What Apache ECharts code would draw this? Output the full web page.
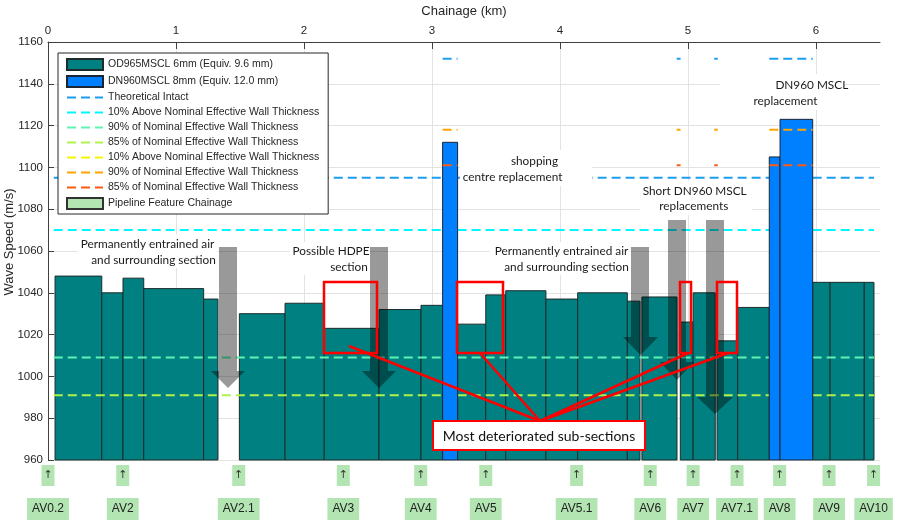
<!DOCTYPE html>
<html><head><meta charset="utf-8">
<script src="https://cdn.jsdelivr.net/npm/echarts@6/dist/echarts.min.js"></script>
<style>html,body{margin:0;padding:0;background:#fff}#c{width:911px;height:531px}</style>
</head><body><div id="c"></div>
<script>
// ---- data ----
const odStart = [0.055, 0.42, 0.586, 0.748, 1.216, 1.495, 1.852, 2.158, 2.586, 2.914, 3.2, 3.42, 3.576, 3.89, 4.138, 4.526, 4.64, 4.94, 5.04, 5.227, 5.388, 5.974, 6.11, 6.377];
const odEnd   = [0.42, 0.586, 0.748, 1.216, 1.328, 1.852, 2.158, 2.586, 2.914, 3.083, 3.42, 3.576, 3.89, 4.138, 4.526, 4.625, 4.914, 5.04, 5.213, 5.388, 5.635, 6.11, 6.377, 6.453];
const odSpeed = [1048, 1040, 1047, 1042, 1037, 1030, 1035, 1023, 1032, 1034, 1025, 1039, 1041, 1037, 1040, 1036, 1038, 1026, 1040, 1017, 1033, 1045, 1045, 1045];
const dnStart = [3.083, 5.635, 5.719];
const dnEnd   = [3.2, 5.719, 5.974];
const dnSpeed = [1112, 1105, 1123];
const odLineStart = [0.045, 3.2, 5.974];
const odLineEnd   = [3.083, 5.635, 6.453];
const dnLineStart = [3.083, 4.912, 5.205, 5.635];
const dnLineEnd   = [3.2, 4.942, 5.232, 5.974];
const odIntact = 1095, od10Above = 1070, od90 = 1009, od85 = 991;
const dnIntact = 1152, dn10Above = 1178, dn90 = 1118, dn85 = 1101;
const featureKm   = [0.0, 0.584, 1.49, 2.307, 2.912, 3.42, 4.13, 4.705, 5.04, 5.383, 5.716, 6.102, 6.45];
const featureName = ['AV0.2','AV2','AV2.1','AV3','AV4','AV5','AV5.1','AV6','AV7','AV7.1','AV8','AV9','AV10'];
const yMin = 960, yMax = 1160, yStep = 20;
const xMin = 0, xMax = 6.5, xStep = 1;

const NAME_OD = 'OD965MSCL 6mm (Equiv. 9.6 mm)';
const NAME_DN = 'DN960MSCL 8mm (Equiv. 12.0 mm)';
const NAME_INT = 'Theoretical Intact';
const NAME_10 = '10% Above Nominal Effective Wall Thickness';
const NAME_90 = '90% of Nominal Effective Wall Thickness';
const NAME_85 = '85% of Nominal Effective Wall Thickness';
const NAME_FEAT = 'Pipeline Feature Chainage';

const TEAL = '#008080', BLUE = '#0080ff', FEAT = '#b3e5b3';
const FONT = 'Liberation Sans';

function barSeries(name, starts, ends, vals, color, border, z) {
  return {
    type: 'custom', name, z, xAxisIndex: 0, yAxisIndex: 0, silent: true,
    itemStyle: { color, borderColor: border, borderWidth: 1 },
    data: starts.map((s, i) => [s, ends[i], vals[i]]),
    encode: { x: [0, 1], y: 2 },
    renderItem(params, api) {
      const p0 = api.coord([api.value(0), api.value(2)]);
      const p1 = api.coord([api.value(1), yMin]);
      return { type: 'rect', shape: { x: p0[0], y: p0[1], width: p1[0] - p0[0], height: p1[1] - p0[1] },
        style: { fill: color, stroke: border, lineWidth: 1 } };
    }
  };
}
function segLine(name, starts, ends, v, color, z) {
  const data = [];
  starts.forEach((s, i) => { data.push([s, v], [ends[i], v], [ends[i], '-']); });
  return { type: 'line', name, z, data, symbol: 'none', showSymbol: false, connectNulls: false, silent: true, clip: true,
    xAxisIndex: 0, yAxisIndex: 0,
    lineStyle: { color, width: 2, type: [9, 5] }, itemStyle: { color } };
}

const series = [
  barSeries(NAME_OD, odStart, odEnd, odSpeed, TEAL, '#1d2b2b', 2),
  segLine(NAME_INT, odLineStart, odLineEnd, odIntact, '#1c9ef0', 3),
  segLine(NAME_10, odLineStart, odLineEnd, od10Above, '#00f7ff', 3),
  segLine(NAME_90, odLineStart, odLineEnd, od90, '#5ef3b2', 3),
  segLine(NAME_85, odLineStart, odLineEnd, od85, '#b0f24c', 3),
  barSeries(NAME_DN, dnStart, dnEnd, dnSpeed, BLUE, '#1a2535', 4),
  segLine(NAME_INT + ' ', dnLineStart, dnLineEnd, dnIntact, '#1c9ef0', 5),
  segLine(NAME_10 + ' ', dnLineStart, dnLineEnd, dn10Above, '#f5f500', 5),
  segLine(NAME_90 + ' ', dnLineStart, dnLineEnd, dn90, '#ffa400', 5),
  segLine(NAME_85 + ' ', dnLineStart, dnLineEnd, dn85, '#ff5a12', 5),
  {
    type: 'custom', name: NAME_FEAT, xAxisIndex: 1, yAxisIndex: 1, silent: true, clip: false,
    itemStyle: { color: FEAT, borderColor: '#333', borderWidth: 1 },
    data: featureKm.map((k, i) => [k, 0.5, i]),
    encode: { x: 0, y: 1 },
    renderItem(params, api) {
      const x = api.coord([api.value(0), 0.5])[0];
      const top = params.coordSys.y;
      const nm = featureName[api.value(2)];
      return { type: 'group', children: [
        { type: 'rect', shape: { x: x - 6.5, y: top + 5, width: 13, height: 21 }, style: { fill: FEAT } },
        { type: 'text', x: x, y: top + 15.5, style: { text: '\u2191', fill: '#333', font: '11px "DejaVu Sans"', textAlign: 'center', textVerticalAlign: 'middle' } },
        { type: 'text', x: x, y: top + 49, style: { text: nm, fill: '#222', font: '12px "Liberation Sans"', textAlign: 'center', textVerticalAlign: 'middle', backgroundColor: FEAT, padding: [5, 5, 5, 5] } }
      ] };
    }
  }
];

// ---- annotations (pixel graphics) ----
const ARROW = 'rgba(0,0,0,0.4)';
function arrow(x1, x2, top, hx1, hx2, headY, tip) {
  const cx = (hx1 + hx2) / 2;
  return { type: 'polygon', z: 100, silent: true, shape: { points: [[x1, top], [x2, top], [x2, headY], [hx2, headY], [cx, tip], [hx1, headY], [x1, headY]] }, style: { fill: ARROW } };
}
function bg(x, y, w, h) { return { type: 'rect', z: 99, silent: true, shape: { x, y, width: w, height: h }, style: { fill: '#fff' } }; }
function txt(text, cx, cy) { return { type: 'text', z: 103, silent: true, x: cx, y: cy, style: { text, fill: '#1a1a1a', font: '11.8px Lato', textAlign: 'center', textVerticalAlign: 'middle' } }; }
function rbox(x1, y1, x2, y2) { return { type: 'rect', z: 104, silent: true, shape: { x: x1, y: y1, width: x2 - x1, height: y2 - y1 }, style: { fill: 'transparent', stroke: '#ff0000', lineWidth: 2.5 } }; }
function rline(x1, y1, x2, y2) { return { type: 'line', z: 104, silent: true, shape: { x1, y1, x2, y2 }, style: { stroke: '#ff0000', lineWidth: 2.5 } }; }

const graphics = [
  bg(78, 234, 140, 34), txt('Permanently entrained air', 147.5, 244), txt('and surrounding section', 153.5, 260),
  bg(290, 242, 80, 33), txt('Possible HDPE', 331, 251), txt('section', 349, 267),
  bg(490, 242, 140, 33), txt('Permanently entrained air', 561.5, 251), txt('and surrounding section', 566.5, 267),
  bg(460, 150, 132, 36), txt('shopping', 534.5, 161), txt('centre replacement', 512.5, 177),
  bg(640, 181, 112, 34), txt('Short DN960 MSCL', 694.7, 191), txt('replacements', 693.8, 206),
  bg(720, 74, 125, 36), txt('DN960 MSCL', 811.8, 85), txt('replacement', 785.5, 101),
  arrow(219, 237, 247, 211, 245, 371, 388),
  arrow(370, 388, 247, 362, 396, 371, 388),
  arrow(631, 649, 247, 623, 658, 337, 355),
  arrow(668, 686, 220, 660, 694, 362, 380),
  arrow(706, 724, 220, 697, 733, 397, 414),
  rbox(324, 282, 377, 353), rbox(457, 282, 503, 353), rbox(680, 282, 691, 353), rbox(717, 282, 737, 353),
  rline(349, 346, 540, 421), rline(480, 353, 540, 421), rline(688, 353, 540, 421), rline(728, 353, 540, 421),
  { type: 'rect', z: 105, silent: true, shape: { x: 433, y: 421, width: 212, height: 29 }, style: { fill: '#fff', stroke: '#ff0000', lineWidth: 2 } },
  { type: 'text', z: 106, silent: true, x: 539, y: 436, style: { text: 'Most deteriorated sub-sections', fill: '#111', font: '14px Lato', textAlign: 'center', textVerticalAlign: 'middle' } },
  { type: 'text', z: 50, silent: true, x: 9, y: 242, rotation: Math.PI / 2, style: { text: 'Wave Speed (m/s)', fill: '#262626', font: '13px "Liberation Sans"', textAlign: 'center', textVerticalAlign: 'middle' } }
];

const hideSym = { opacity: 0 };
const legendData = [
  { name: NAME_OD, icon: 'rect' }, { name: NAME_DN, icon: 'rect' },
  { name: NAME_INT, itemStyle: hideSym }, { name: NAME_10, itemStyle: hideSym },
  { name: NAME_90, itemStyle: hideSym }, { name: NAME_85, itemStyle: hideSym },
  { name: NAME_10 + ' ', itemStyle: hideSym }, { name: NAME_90 + ' ', itemStyle: hideSym },
  { name: NAME_85 + ' ', itemStyle: hideSym },
  { name: NAME_FEAT, icon: 'rect' }
];

const chart = echarts.init(document.getElementById('c'), null, { renderer: 'canvas' });
chart.setOption({
  animation: false,
  backgroundColor: '#fff',
  grid: [
    { left: 48, right: 31, top: 42, bottom: 71, outerBoundsMode: 'none', containLabel: false },
    { left: 48, right: 31, top: 460, bottom: 0, outerBoundsMode: 'none', containLabel: false }
  ],
  xAxis: [
    { type: 'value', gridIndex: 0, position: 'top', min: xMin, max: xMax, interval: xStep,
      name: 'Chainage (km)', nameLocation: 'middle', nameGap: 24,
      nameTextStyle: { fontSize: 13, color: '#262626', fontFamily: FONT },
      axisLine: { show: true, onZero: false, lineStyle: { color: '#404040', width: 1 } },
      axisTick: { show: true, inside: true, length: 7, lineStyle: { color: '#404040' } },
      axisLabel: { show: true, margin: 5, fontSize: 11.5, color: '#262626', fontFamily: FONT, showMaxLabel: false,
        formatter: v => (Math.abs(v - Math.round(v)) < 1e-9 ? String(Math.round(v)) : '') },
      splitLine: { show: true, showMaxLine: false, lineStyle: { color: '#e3e3e3', width: 1 } } },
    { type: 'value', gridIndex: 1, min: xMin, max: xMax, show: false }
  ],
  yAxis: [
    { type: 'value', gridIndex: 0, min: yMin, max: yMax, interval: yStep,
      axisLine: { show: true, onZero: false, lineStyle: { color: '#404040', width: 1 } },
      axisTick: { show: true, inside: true, length: 6, lineStyle: { color: '#404040' } },
      axisLabel: { show: true, margin: 5, fontSize: 11.5, color: '#262626', fontFamily: FONT, formatter: v => String(v) },
      splitLine: { show: true, lineStyle: { color: '#e3e3e3', width: 1 } } },
    { type: 'value', gridIndex: 1, min: 0, max: 1, show: false }
  ],
  legend: {
    orient: 'vertical', left: 58, top: 53, z: 10, selectedMode: false,
    backgroundColor: '#fff', borderColor: '#262626', borderWidth: 1, borderRadius: 0,
    padding: [5, 6, 4, 8], itemGap: 4, itemWidth: 36, itemHeight: 11,
    textStyle: { color: '#262626', fontSize: 10.5, fontFamily: FONT },
    data: legendData
  },
  series,
  graphic: graphics
});
</script></body></html>
